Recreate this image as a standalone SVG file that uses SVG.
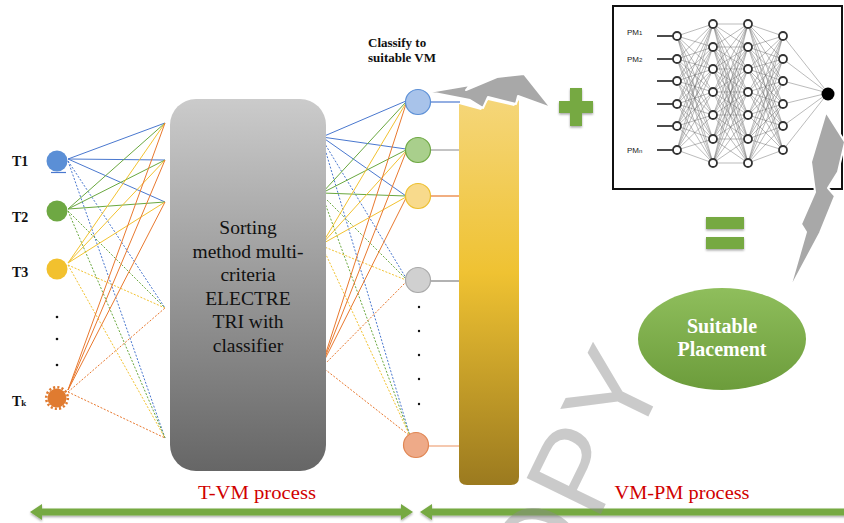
<svg xmlns="http://www.w3.org/2000/svg" width="844" height="523" viewBox="0 0 844 523">
<style>
.lbl{font-family:"Liberation Serif","Times New Roman",serif;font-weight:bold;fill:#111}
.box{font-family:"Liberation Serif","Times New Roman",serif;font-size:19.5px;fill:#111;text-anchor:middle}
.proc{font-family:"Liberation Serif","Times New Roman",serif;font-size:19px;fill:#d00000;text-anchor:middle}
.pm{font-family:"Liberation Sans",Arial,sans-serif;font-size:8px;fill:#222}
.s{fill:none;stroke-width:1}
.d{fill:none;stroke-width:1;stroke-dasharray:2 1.6}
.bl{stroke:#4a78cf}.gr{stroke:#6aa83f}.ye{stroke:#f2c230}.or{stroke:#e8782e}
.nn{fill:#fff;stroke:#333;stroke-width:1.8}
.grn{fill:#76a943}
.bolt{fill:#a8a8a8;stroke:#fff;stroke-width:2;stroke-linejoin:round}
.pl{font-family:"Liberation Serif","Times New Roman",serif;font-weight:bold;font-size:20px;fill:#fff;text-anchor:middle}
</style>
<defs>
<linearGradient id="gbox" x1="0" y1="0" x2="0" y2="1"><stop offset="0" stop-color="#cbcbcb"/><stop offset="1" stop-color="#666"/></linearGradient>
<linearGradient id="gbar" x1="0" y1="0" x2="0" y2="1"><stop offset="0" stop-color="#f5d679"/><stop offset="0.45" stop-color="#efc232"/><stop offset="1" stop-color="#9b7a1f"/></linearGradient>
<linearGradient id="gell" x1="0" y1="0" x2="0" y2="1"><stop offset="0" stop-color="#8fbe5c"/><stop offset="1" stop-color="#6c9c3b"/></linearGradient>
<filter id="sh" x="-20%" y="-20%" width="140%" height="150%"><feDropShadow dx="0" dy="1.5" stdDeviation="1.2" flood-color="#000" flood-opacity="0.35"/></filter>
</defs>
<rect width="844" height="523" fill="#fff"/>

<g id="connectors">
<path class="s bl" d="M68 159L165 123M68 159L165 160M68 159L165 202"/>
<path class="d bl" d="M68 161L165 308M68 161L165 438"/>
<path class="s gr" d="M68 209L165 123M68 209L165 160M68 209L165 202"/>
<path class="d gr" d="M68 211L165 308M68 211L165 438"/>
<path class="s ye" d="M68 263L165 123M68 263L165 160M68 263L165 202"/>
<path class="d ye" d="M68 265L165 308M68 265L165 438"/>
<path class="s or" d="M68 390L165 123M68 390L165 160M68 390L165 202"/>
<path class="d or" d="M68 392L165 308M68 392L165 438"/>
<path class="s bl" d="M322 137L406 101M322 137L406 149M322 137L406 196"/>
<path class="d bl" d="M322 139L406 278M322 139L410 436"/>
<path class="s gr" d="M322 193L406 102M322 193L406 150M322 193L406 196"/>
<path class="d gr" d="M322 195L406 279M322 195L410 436"/>
<path class="s ye" d="M322 244L406 103M322 244L406 151M322 244L406 197"/>
<path class="d ye" d="M322 246L406 280M322 246L410 436"/>
<path class="s or" d="M322 365L406 104M322 365L406 152M322 365L406 198"/>
<path class="d or" d="M322 367L406 282M322 367L410 436"/>
<path fill="none" stroke-width="1.2" stroke="#4a78cf" d="M431 102H460"/>
<path fill="none" stroke-width="1" stroke="#888" d="M431 150H459"/>
<path fill="none" stroke-width="1.2" stroke="#e8782e" d="M431 196H459"/>
<path fill="none" stroke-width="1.5" stroke="#999" d="M431 281H459"/>
<path fill="none" stroke-width="1.2" stroke="#eea37a" d="M429 446H459"/>
</g>

<g id="tasks">
<g id="t1"><circle cx="57" cy="161" r="10.5" fill="#5b8fd6"/><line x1="51" y1="172.5" x2="66" y2="172.5" stroke="#4a78cf" stroke-width="1.2"/><text class="lbl" x="12" y="166" font-size="14">T1</text></g>
<g id="t2"><circle cx="57" cy="211" r="10.5" fill="#6ea843"/><text class="lbl" x="12" y="222" font-size="14">T2</text></g>
<g id="t3"><circle cx="57" cy="269" r="10.5" fill="#f2c12e"/><text class="lbl" x="12" y="277" font-size="14">T3</text></g>
<g id="tdots" fill="#111"><circle cx="57" cy="317" r="1.3"/><circle cx="57" cy="339" r="1.3"/><circle cx="57" cy="365" r="1.3"/></g>
<g id="tk"><circle cx="57" cy="398" r="9.5" fill="#e07b30"/><circle cx="57" cy="398" r="10.8" fill="none" stroke="#e07b30" stroke-width="2.6" stroke-dasharray="2.1 2.14"/><text class="lbl" x="12" y="406" font-size="14">T<tspan font-size="9">k</tspan></text></g>
</g>

<g id="sorter">
<rect x="170" y="99" width="156" height="372" rx="26" fill="url(#gbox)"/>
<text class="box" x="248" y="234">Sorting</text>
<text class="box" x="248" y="257.5">method multi-</text>
<text class="box" x="248" y="281">criteria</text>
<text class="box" x="248" y="304.5">ELECTRE</text>
<text class="box" x="248" y="328">TRI with</text>
<text class="box" x="248" y="351.5">classifier</text>
</g>

<g id="vms">
<text class="lbl" font-size="13" x="368" y="47">Classify to</text>
<text class="lbl" font-size="13" x="368" y="62">suitable VM</text>
<circle cx="418" cy="102" r="12.5" fill="#a8c3ea" stroke="#5b8fd6" stroke-width="1.2"/>
<circle cx="418" cy="150" r="12.5" fill="#a9cf8c" stroke="#6ea843" stroke-width="1.2"/>
<circle cx="418" cy="196" r="12.5" fill="#f8da8c" stroke="#edbf2f" stroke-width="1.2"/>
<circle cx="418" cy="280" r="12.5" fill="#d0d0d0" stroke="#a9a9a9" stroke-width="1.2"/>
<g fill="#111"><circle cx="419" cy="307" r="1.2"/><circle cx="419" cy="331" r="1.2"/><circle cx="419" cy="355" r="1.2"/><circle cx="419" cy="379" r="1.2"/><circle cx="419" cy="404" r="1.2"/></g>
<circle cx="416" cy="445" r="12.5" fill="#eeaa88" stroke="#e08552" stroke-width="1.2"/>
</g>

<g id="vmbar">
<path d="M459 104L481 110L488 100L514 106L519 100V477Q519 485 511 485H467Q459 485 459 477Z" fill="url(#gbar)"/>
<polygon class="bolt" points="429,92 470,85 466,90 497,77 524,74 551,108 518,96 516,104 488,97 483,108 470,100"/>
</g>

<g id="plus"><path class="grn" filter="url(#sh)" d="M570 88H582V101H593V113H582V126H570V113H559V101H570Z"/></g>

<g id="nnbox">
<rect x="613" y="6" width="229" height="183" fill="#fff" stroke="#111" stroke-width="2"/>
<g fill="none" stroke="#666" stroke-width="0.45">
<path d="M677 36L713 24M677 36L713 47M677 36L713 69M677 36L713 92M677 36L713 115M677 36L713 139M677 36L713 163M677 59L713 24M677 59L713 47M677 59L713 69M677 59L713 92M677 59L713 115M677 59L713 139M677 59L713 163M677 81L713 24M677 81L713 47M677 81L713 69M677 81L713 92M677 81L713 115M677 81L713 139M677 81L713 163M677 104L713 24M677 104L713 47M677 104L713 69M677 104L713 92M677 104L713 115M677 104L713 139M677 104L713 163M677 126L713 24M677 126L713 47M677 126L713 69M677 126L713 92M677 126L713 115M677 126L713 139M677 126L713 163M677 150L713 24M677 150L713 47M677 150L713 69M677 150L713 92M677 150L713 115M677 150L713 139M677 150L713 163"/>
<path d="M713 24L748 24M713 24L748 47M713 24L748 69M713 24L748 92M713 24L748 115M713 24L748 139M713 24L748 163M713 47L748 24M713 47L748 47M713 47L748 69M713 47L748 92M713 47L748 115M713 47L748 139M713 47L748 163M713 69L748 24M713 69L748 47M713 69L748 69M713 69L748 92M713 69L748 115M713 69L748 139M713 69L748 163M713 92L748 24M713 92L748 47M713 92L748 69M713 92L748 92M713 92L748 115M713 92L748 139M713 92L748 163M713 115L748 24M713 115L748 47M713 115L748 69M713 115L748 92M713 115L748 115M713 115L748 139M713 115L748 163M713 139L748 24M713 139L748 47M713 139L748 69M713 139L748 92M713 139L748 115M713 139L748 139M713 139L748 163M713 163L748 24M713 163L748 47M713 163L748 69M713 163L748 92M713 163L748 115M713 163L748 139M713 163L748 163"/>
<path d="M748 24L783 36M748 24L783 59M748 24L783 81M748 24L783 104M748 24L783 126M748 24L783 150M748 47L783 36M748 47L783 59M748 47L783 81M748 47L783 104M748 47L783 126M748 47L783 150M748 69L783 36M748 69L783 59M748 69L783 81M748 69L783 104M748 69L783 126M748 69L783 150M748 92L783 36M748 92L783 59M748 92L783 81M748 92L783 104M748 92L783 126M748 92L783 150M748 115L783 36M748 115L783 59M748 115L783 81M748 115L783 104M748 115L783 126M748 115L783 150M748 139L783 36M748 139L783 59M748 139L783 81M748 139L783 104M748 139L783 126M748 139L783 150M748 163L783 36M748 163L783 59M748 163L783 81M748 163L783 104M748 163L783 126M748 163L783 150"/>
</g>
<path fill="none" stroke="#aaa" stroke-width="0.8" d="M783 36L828 93M783 59L828 93M783 81L828 93M783 104L828 93M783 126L828 93M783 150L828 93"/>
<path fill="none" stroke="#111" stroke-width="1.3" d="M657 36H673M657 59H673M657 81H673M657 104H673M657 126H673M657 150H673"/>
<g class="nn">
<circle cx="677" cy="36" r="4"/><circle cx="677" cy="59" r="4"/><circle cx="677" cy="81" r="4"/><circle cx="677" cy="104" r="4"/><circle cx="677" cy="126" r="4"/><circle cx="677" cy="150" r="4"/>
<circle cx="713" cy="24" r="4"/><circle cx="713" cy="47" r="4"/><circle cx="713" cy="69" r="4"/><circle cx="713" cy="92" r="4"/><circle cx="713" cy="115" r="4"/><circle cx="713" cy="139" r="4"/><circle cx="713" cy="163" r="4"/>
<circle cx="748" cy="24" r="4"/><circle cx="748" cy="47" r="4"/><circle cx="748" cy="69" r="4"/><circle cx="748" cy="92" r="4"/><circle cx="748" cy="115" r="4"/><circle cx="748" cy="139" r="4"/><circle cx="748" cy="163" r="4"/>
<circle cx="783" cy="36" r="4"/><circle cx="783" cy="59" r="4"/><circle cx="783" cy="81" r="4"/><circle cx="783" cy="104" r="4"/><circle cx="783" cy="126" r="4"/><circle cx="783" cy="150" r="4"/>
</g>
<circle cx="828" cy="94" r="6.5" fill="#000"/>
<text class="pm" x="627" y="35">PM<tspan font-size="6">1</tspan></text>
<text class="pm" x="627" y="62">PM<tspan font-size="6">2</tspan></text>
<text class="pm" x="627" y="153">PM<tspan font-size="6">n</tspan></text>
</g>

<g id="bolt2"><polygon class="bolt" points="826,112 845,142 838,172 828,188 835,196 820,233 789,291 806,232 801,224 815,192 811,162"/></g>

<g id="equals" filter="url(#sh)"><rect class="grn" x="706" y="217" width="38" height="12"/><rect class="grn" x="706" y="237" width="38" height="12"/></g>

<g id="placement">
<ellipse cx="722" cy="339" rx="84" ry="51" fill="url(#gell)"/>
<text class="pl" x="722" y="333">Suitable</text>
<text class="pl" x="722" y="356">Placement</text>
</g>

<g id="process">
<text class="proc" x="257" y="499" textLength="118" lengthAdjust="spacingAndGlyphs">T-VM process</text>
<text class="proc" x="682" y="499" textLength="135" lengthAdjust="spacingAndGlyphs">VM-PM process</text>
<g filter="url(#sh)">
<path class="grn" d="M30 512L42 504V508.5H401V504L413 512L401 520V515.5H42V520Z"/>
<path class="grn" d="M420 512L432 504V508.5H850V515.5H432V520Z"/>
</g>
</g>

<text x="0" y="0" font-family="'Liberation Sans',Arial,sans-serif" font-size="120" letter-spacing="4" fill="#8a8a8a" fill-opacity="0.45" transform="translate(514 692) rotate(-64)">COPY</text>
</svg>
